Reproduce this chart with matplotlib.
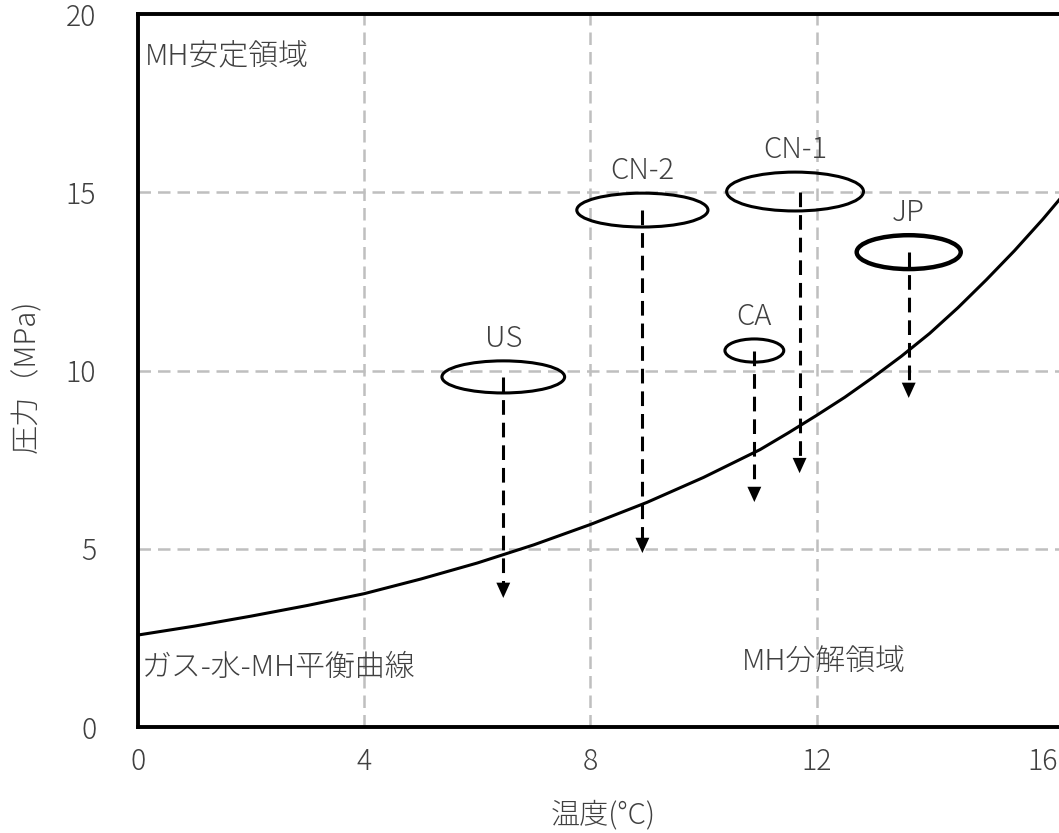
import numpy as np
import matplotlib
matplotlib.use("Agg")
import matplotlib.pyplot as plt
from matplotlib.patches import Ellipse

plt.rcParams['font.family'] = ['Noto Sans CJK JP', 'DejaVu Sans']
plt.rcParams['font.weight'] = 'light'

# gas-water-MH equilibrium curve (temperature degC, pressure MPa)
curve_t = [0, 1, 2, 3, 4, 5, 6, 7, 8, 9, 10, 11, 11.5, 12, 12.5, 13,
           13.5, 14, 14.5, 15, 15.5, 16, 16.5]
curve_p = [2.58, 2.83, 3.11, 3.41, 3.74, 4.15, 4.60, 5.11, 5.68, 6.30,
           7.00, 7.78, 8.25, 8.74, 9.25, 9.81, 10.40, 11.04, 11.76, 12.54,
           13.36, 14.24, 15.18]

# reservoir conditions: centre, spread in T and P
sites = ['US', 'CN-2', 'CN-1', 'CA', 'JP']
site_t = [6.46, 8.92, 11.62, 10.90, 13.63]
site_p = [9.82, 14.50, 15.02, 10.56, 13.32]
site_dt = [2.17, 2.32, 2.42, 1.04, 1.84]
site_dp = [0.90, 0.95, 1.09, 0.65, 0.95]

# depressurisation arrows: temperature and end pressure
arrow_t = [6.46, 8.92, 11.70, 10.90, 13.63]
arrow_p = [3.62, 4.88, 7.12, 6.31, 9.23]

x_ticks = [0, 4, 8, 12, 16]
y_ticks = [0, 5, 10, 15, 20]
grid_x = [4, 8, 12]
grid_y = [5, 10, 15]

W, H = 1059, 833
fig = plt.figure(figsize=(W / 100, H / 100), dpi=100)
ax = fig.add_axes([138 / W, (H - 727) / H, 933 / W, 713 / H])
ax.set_xlim(0, 16.5)
ax.set_ylim(0, 20)

grey = '#404040'
grid_kw = dict(color='#bfbfbf', lw=1.8, dashes=(5.0, 2.8), zorder=1)
for gx in grid_x:
    ax.axvline(gx, **grid_kw)
for gy in grid_y:
    ax.axhline(gy, **grid_kw)

ax.plot(curve_t, curve_p, color='black', lw=2.2, zorder=3)

for i, name in enumerate(sites):
    lw = 3.2 if name == 'JP' else 2.2
    ax.add_patch(Ellipse((site_t[i], site_p[i]), site_dt[i], site_dp[i],
                         fill=False, ec='black', lw=lw, zorder=4))
    ax.annotate(name, (site_t[i], site_p[i] + site_dp[i] / 2),
                xytext=(0, 5), textcoords='offset points',
                ha='center', va='bottom', fontsize=21, color=grey)
    ax.plot([arrow_t[i], arrow_t[i]], [site_p[i], arrow_p[i] + 0.3],
            color='black', lw=2.2, dashes=(4.8, 2.6), zorder=4)
    ax.annotate('', xy=(arrow_t[i], arrow_p[i]),
                xytext=(0, 12), textcoords='offset points',
                arrowprops=dict(arrowstyle='-|>,head_length=0.55,head_width=0.25',
                                color='black', lw=0, mutation_scale=20,
                                shrinkA=0, shrinkB=0), zorder=5)

ax.text(0.12, 18.79, 'MH安定領域', fontsize=21.5, color=grey, va='center')
ax.text(0.07, 1.65, 'ガス-水-MH平衡曲線', fontsize=21.5, color=grey, va='center')
ax.text(10.68, 1.80, 'MH分解領域', fontsize=21.5, color=grey, va='center')

ax.set_xticks(x_ticks)
ax.set_yticks(y_ticks)
ax.tick_params(axis='both', length=0, labelsize=20.5, labelcolor=grey)
ax.tick_params(axis='x', pad=14)
ax.tick_params(axis='y', pad=30)

for side in ['left', 'top', 'bottom']:
    ax.spines[side].set_linewidth(2.8)
ax.spines['right'].set_visible(False)

fig.text(603 / W, 1 - 815 / H, '温度(°C)', fontsize=21, color=grey,
         ha='center', va='center')
fig.text(27 / W, 1 - 376 / H, '圧力（MPa)', fontsize=21, color=grey,
         ha='center', va='center', rotation=90)

fig.savefig('out.png', dpi=100)
